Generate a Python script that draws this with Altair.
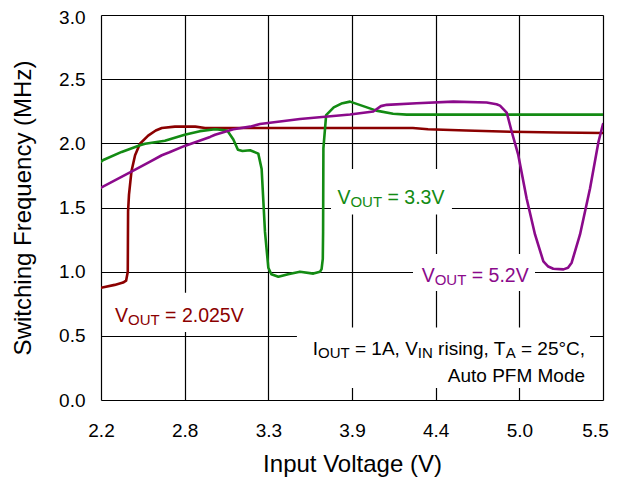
import altair as alt
import pandas as pd

# ---------------- data ----------------
red_x = [2.20, 2.29, 2.345, 2.365, 2.376, 2.377, 2.378, 2.384, 2.40, 2.424, 2.456, 2.51, 2.56, 2.60,
         2.686, 2.82, 2.884, 3.5, 4.25, 4.35, 4.6, 4.9, 5.2, 5.5]
red_y = [0.874, 0.897, 0.915, 0.93, 1.00, 1.25, 1.47, 1.60, 1.78, 1.907, 1.997, 2.06, 2.10, 2.12,
         2.13, 2.13, 2.12, 2.12, 2.12, 2.11, 2.10, 2.09, 2.085, 2.08]

green_x = [2.20, 2.215, 2.336, 2.456, 2.49, 2.62, 2.75, 2.85, 2.95, 3.03, 3.07, 3.10, 3.13, 3.18,
           3.234, 3.256, 3.278, 3.30, 3.32, 3.366, 3.43, 3.508, 3.596, 3.64, 3.65, 3.658, 3.66,
           3.662, 3.68, 3.73, 3.78, 3.837, 3.924, 4.01, 4.12, 4.21, 5.5]
green_y = [1.856, 1.87, 1.933, 1.985, 1.997, 2.02, 2.067, 2.095, 2.11, 2.10, 2.03, 1.95, 1.94, 1.946,
           1.92, 1.80, 1.31, 1.03, 0.98, 0.96, 0.98, 1.00, 0.985, 1.00, 1.02, 1.10, 1.31,
           1.96, 2.22, 2.28, 2.31, 2.325, 2.29, 2.255, 2.23, 2.224, 2.224]

purple_x = [2.20, 2.40, 2.52, 2.60, 2.65, 2.75, 2.917, 2.95, 3.07, 3.18, 3.245, 3.508, 3.837, 3.99,
            4.04, 4.078, 4.275, 4.516, 4.735, 4.80, 4.823, 4.867, 4.90, 4.943, 4.998, 5.053, 5.108,
            5.14, 5.173, 5.24, 5.27, 5.294, 5.349, 5.415, 5.47, 5.50]
purple_y = [1.655, 1.78, 1.856, 1.907, 1.93, 1.98, 2.05, 2.067, 2.11, 2.13, 2.15, 2.19, 2.225, 2.248,
            2.29, 2.30, 2.312, 2.325, 2.318, 2.305, 2.294, 2.24, 2.09, 1.91, 1.57, 1.29, 1.08,
            1.04, 1.023, 1.018, 1.03, 1.07, 1.29, 1.65, 2.01, 2.15]

series_names = ["2.025V", "3.3V", "5.2V"]
series_colors = ["#8B0000", "#138B13", "#8B0A8B"]

x_ticks = [2.2, 2.75, 3.3, 3.85, 4.4, 4.95, 5.5]
y_ticks = [0.0, 0.5, 1.0, 1.5, 2.0, 2.5, 3.0]

# white label backgrounds (data units)
box_x = [2.226, 3.712, 4.251, 3.488]
box_x2 = [3.18, 4.507, 5.053, 5.415]
box_y = [0.53, 1.446, 0.85, 0.093]
box_y2 = [0.835, 1.80, 1.137, 0.564]

FONT = "Liberation Sans, Arial, sans-serif"

# ---------------- encodings ----------------
xs = alt.Scale(domain=[2.2, 5.5], nice=False, zero=False)
ys = alt.Scale(domain=[0, 3], nice=False, zero=True)

X_ENC = alt.X("x:Q", scale=xs, axis=alt.Axis(
    values=x_ticks, labelExpr="format(datum.value + 0.0001, '.1f')",
    title="Input Voltage (V)", titleFontSize=24, titleFontWeight="normal", titleFont=FONT,
    titleColor="black", titleY=64, titleBaseline="middle",
    labelFontSize=19, labelFont=FONT, labelColor="black", labelPadding=21,
    labelOffset=alt.ConditionalAxisNumber(condition={"test": "datum.value > 5.4", "value": -8}, value=0),
    ticks=False, tickSize=0, domain=False, grid=True, gridColor="black", gridWidth=1.2,
    labelFlush=False))
Y_ENC = alt.Y("y:Q", scale=ys, axis=alt.Axis(
    values=y_ticks, format=".1f",
    title="Switching Frequency (MHz)", titleFontSize=24, titleFontWeight="normal", titleFont=FONT,
    titleColor="black", titleX=-78, titleBaseline="middle", titleAlign="center",
    labelFontSize=19, labelFont=FONT, labelColor="black", labelPadding=16,
    labelOffset=alt.ConditionalAxisNumber(condition={"test": "datum.value > 2.9", "value": 2}, value=0),
    ticks=False, tickSize=0, domain=False, grid=True, gridColor="black", gridWidth=1.2,
    labelFlush=False))

# ---------------- lines ----------------
rows = []
for name, xv, yv in zip(series_names, [red_x, green_x, purple_x], [red_y, green_y, purple_y]):
    for i, (a, b) in enumerate(zip(xv, yv)):
        rows.append({"x": a, "y": b, "series": name, "i": i})
line_df = pd.DataFrame(rows)

boxes = alt.Chart(pd.DataFrame({"x": box_x, "x2": box_x2, "y": box_y, "y2": box_y2})).mark_rect(
    color="white").encode(x=X_ENC, x2="x2:Q", y=Y_ENC, y2="y2:Q")

lines = alt.Chart(line_df).mark_line(strokeWidth=2.6, clip=True, strokeJoin="round", strokeCap="round").encode(
    x=X_ENC, y=Y_ENC,
    color=alt.Color("series:N", scale=alt.Scale(domain=series_names, range=series_colors), legend=None),
    detail="series:N", order="i:Q")

# ---------------- rich text annotations ----------------
W = {" ": 278, "=": 584, ".": 278, ",": 278, "V": 667, "O": 778, "U": 722, "T": 611, "I": 278,
     "N": 722, "A": 667, "r": 333, "i": 222, "s": 500, "n": 556, "g": 556, "°": 400, "C": 722,
     "u": 556, "t": 278, "o": 556, "P": 667, "F": 611, "M": 833, "d": 556, "e": 556}
for d in "0123456789":
    W[d] = 556


def tw(s, size):
    return sum(W.get(c, 556) for c in s) * size / 1000.0


def rich(x, y, segs, color, main=19.5, sub=15, right=False):
    total = sum(tw(t, sub if s else main) for t, s in segs)
    off = -total if right else 0.0
    src = pd.DataFrame({"x": [x], "y": [y]})
    out = []
    for t, s in segs:
        size = sub if s else main
        stripped = t.lstrip(" ")
        off += tw(t[: len(t) - len(stripped)], size)
        out.append(alt.Chart(src).mark_text(
            text=stripped, align="left", baseline="alphabetic", dx=off, dy=3 if s else 0,
            fontSize=size, font=FONT, color=color).encode(x=X_ENC, y=Y_ENC))
        off += tw(stripped, size)
    return out


texts = []
texts += rich(2.292, 0.606, [("V", False), ("OUT", True), (" = 2.025V", False)], series_colors[0])
texts += rich(3.754, 1.525, [("V", False), ("OUT", True), (" = 3.3V", False)], series_colors[1])
texts += rich(4.308, 0.922, [("V", False), ("OUT", True), (" = 5.2V", False)], series_colors[2])
texts += rich(5.382, 0.348, [("I", False), ("OUT", True), (" = 1A, V", False), ("IN", True),
                             (" rising, T", False), ("A", True), (" = 25°C,", False)],
              "black", main=19, sub=15, right=True)
texts += rich(5.382, 0.1415, [("Auto PFM Mode", False)], "black", main=19, right=True)

chart = alt.layer(boxes, lines, *texts).properties(
    width=502, height=385,
    autosize=alt.AutoSizeParams(type="none"),
    padding={"left": 93, "top": 7, "right": 6, "bottom": 80},
).configure_view(stroke="black", strokeWidth=1.5).configure(background="white")

chart.save("out.html", embed_options={"renderer": "svg", "actions": False})
